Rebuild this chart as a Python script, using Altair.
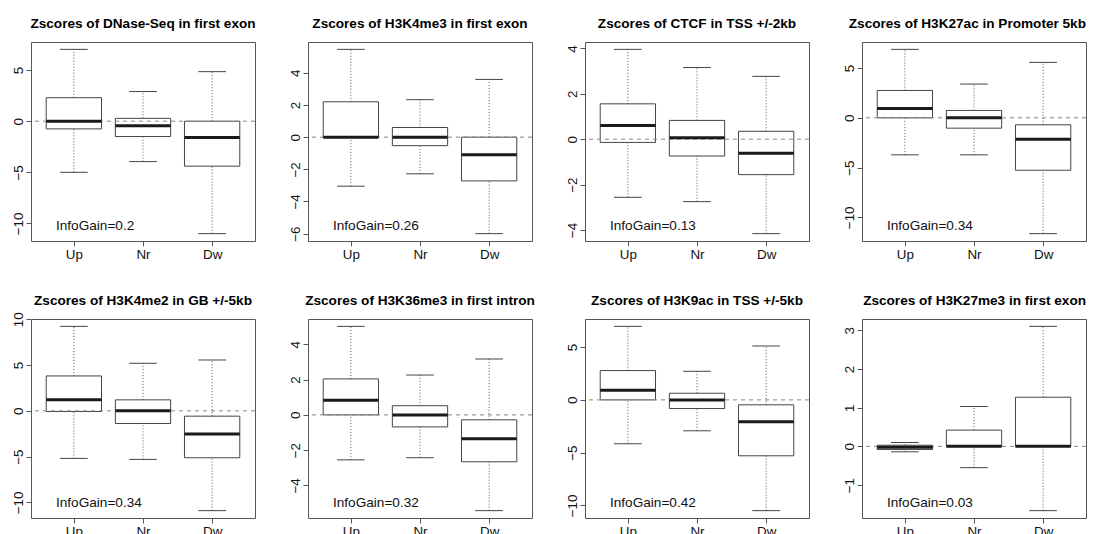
import altair as alt
import pandas as pd

titles = [
    "Zscores of DNase-Seq in first exon",
    "Zscores of H3K4me3 in first exon",
    "Zscores of CTCF in TSS +/-2kb",
    "Zscores of H3K27ac in Promoter 5kb",
    "Zscores of H3K4me2 in GB +/-5kb",
    "Zscores of H3K36me3 in first intron",
    "Zscores of H3K9ac in TSS +/-5kb",
    "Zscores of H3K27me3 in first exon",
]
info_gain = ["0.2", "0.26", "0.13", "0.34", "0.34", "0.32", "0.42", "0.03"]
groups = ["Up", "Nr", "Dw"]

whisk_hi = [
    [7.03, 2.90, 4.85],
    [5.46, 2.33, 3.59],
    [3.96, 3.16, 2.77],
    [6.88, 3.39, 5.57],
    [9.22, 5.19, 5.55],
    [5.02, 2.26, 3.17],
    [6.97, 2.71, 5.11],
    [0.10, 1.03, 3.10],
]
q3 = [
    [2.30, 0.28, 0.00],
    [2.20, 0.60, 0.00],
    [1.56, 0.83, 0.35],
    [2.75, 0.74, -0.70],
    [3.81, 1.20, -0.58],
    [2.04, 0.52, -0.28],
    [2.78, 0.63, -0.47],
    [0.03, 0.42, 1.27],
]
med = [
    [0.00, -0.45, -1.60],
    [0.00, 0.00, -1.10],
    [0.60, 0.06, -0.62],
    [0.94, 0.00, -2.15],
    [1.20, 0.00, -2.54],
    [0.83, 0.00, -1.36],
    [0.92, 0.00, -2.08],
    [-0.02, 0.00, 0.00],
]
q1 = [
    [-0.75, -1.50, -4.40],
    [0.00, -0.53, -2.72],
    [-0.14, -0.74, -1.56],
    [0.00, -1.04, -5.27],
    [-0.07, -1.38, -5.12],
    [0.00, -0.68, -2.66],
    [0.00, -0.82, -5.30],
    [-0.08, 0.00, 0.00],
]
whisk_lo = [
    [-5.00, -3.95, -11.00],
    [-3.05, -2.28, -6.00],
    [-2.56, -2.75, -4.16],
    [-3.72, -3.72, -11.64],
    [-5.19, -5.30, -10.89],
    [-2.55, -2.43, -5.43],
    [-4.16, -2.93, -10.50],
    [-0.14, -0.55, -1.66],
]
y_ticks = [
    [-10, -5, 0, 5],
    [-6, -4, -2, 0, 2, 4],
    [-4, -2, 0, 2, 4],
    [-10, -5, 0, 5],
    [-10, -5, 0, 5, 10],
    [-4, -2, 0, 2, 4],
    [-10, -5, 0, 5],
    [-1, 0, 1, 2, 3],
]

FONT = "Liberation Sans"
W, H = 224, 199


def panel(i):
    df = pd.DataFrame({
        "g": [1, 2, 3],
        "name": groups,
        "lo": whisk_lo[i],
        "q1": q1[i],
        "med": med[i],
        "q3": q3[i],
        "hi": whisk_hi[i],
    })
    lo_all = min(whisk_lo[i])
    hi_all = max(whisk_hi[i])
    ext = 0.04 * (hi_all - lo_all)
    ys = alt.Scale(domain=[lo_all - ext, hi_all + ext], nice=False, zero=False)
    xs = alt.Scale(domain=[0.38, 3.62], nice=False, zero=False)
    xaxis = alt.Axis(values=[1, 2, 3], labelExpr="['', 'Up', 'Nr', 'Dw'][datum.value]",
                     title=None, grid=False, domain=False, tickSize=5, labelPadding=1)
    yaxis = alt.Axis(values=y_ticks[i], title=None, grid=False, domain=False,
                     labelAngle=270, labelAlign="center", labelBaseline="alphabetic",
                     tickSize=5, labelPadding=4)

    base = alt.Chart(df).transform_calculate(
        xl="datum.g - 0.4", xr="datum.g + 0.4",
        cl="datum.g - 0.2", cr="datum.g + 0.2",
    )
    box = base.mark_rect(fill="white", stroke="#444", strokeWidth=1).encode(
        x=alt.X("xl:Q", scale=xs, axis=xaxis), x2="xr:Q",
        y=alt.Y("q1:Q", scale=ys, axis=yaxis), y2="q3:Q",
    )
    wu = base.mark_rule(color="#555", strokeDash=[1, 2], strokeWidth=1).encode(
        x=alt.X("g:Q", scale=xs, axis=xaxis),
        y=alt.Y("q3:Q", scale=ys, axis=yaxis), y2="hi:Q",
    )
    wl = base.mark_rule(color="#555", strokeDash=[1, 2], strokeWidth=1).encode(
        x=alt.X("g:Q", scale=xs, axis=xaxis),
        y=alt.Y("lo:Q", scale=ys, axis=yaxis), y2="q1:Q",
    )
    cu = base.mark_rule(color="#444", strokeWidth=1).encode(
        x=alt.X("cl:Q", scale=xs, axis=xaxis), x2="cr:Q",
        y=alt.Y("hi:Q", scale=ys, axis=yaxis),
    )
    cl = base.mark_rule(color="#444", strokeWidth=1).encode(
        x=alt.X("cl:Q", scale=xs, axis=xaxis), x2="cr:Q",
        y=alt.Y("lo:Q", scale=ys, axis=yaxis),
    )
    zero = alt.Chart(pd.DataFrame({"z": [0]})).mark_rule(
        color="#888", strokeDash=[4, 4], strokeWidth=1
    ).encode(y=alt.Y("z:Q", scale=ys, axis=yaxis))
    md = base.mark_rule(color="#1a1a1a", strokeWidth=3, strokeCap="butt").encode(
        x=alt.X("xl:Q", scale=xs, axis=xaxis), x2="xr:Q",
        y=alt.Y("med:Q", scale=ys, axis=yaxis),
    )
    txt = alt.Chart(pd.DataFrame({"t": ["InfoGain=" + info_gain[i]]})).mark_text(
        align="left", baseline="alphabetic", font=FONT, fontSize=13.6, color="#111"
    ).encode(x=alt.value(25), y=alt.value(H - 11), text="t:N")

    anchor = "end" if i % 4 == 3 else "middle"
    # the top tick label "10" of panel 5 reaches above the frame; compensate
    t_off = -7 if i == 4 else 0
    return alt.layer(box, wu, wl, cu, cl, zero, md, txt).properties(
        width=W, height=H,
        title=alt.TitleParams(text=titles[i], font=FONT, fontSize=13.6, fontWeight="bold",
                              anchor=anchor, frame="group", offset=t_off,
                              baseline="alphabetic", color="#000"),
    )


chart = alt.concat(
    *[panel(i) for i in range(8)], columns=4,
    spacing={"row": 78, "column": 53}, bounds="flush",
).properties(
    padding={"left": 2, "top": 8, "right": 0, "bottom": 0},
    background="white",
).configure_view(stroke="#555", strokeWidth=1).configure_axis(
    labelFont=FONT, labelFontSize=13.4, labelColor="#111", tickColor="#555", tickWidth=1
)

chart.save("out.html", embed_options={"renderer": "svg", "actions": False})
